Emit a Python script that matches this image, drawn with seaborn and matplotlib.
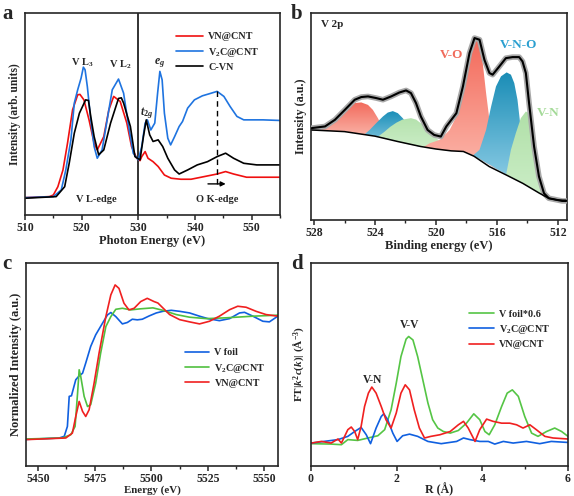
import numpy as np
import matplotlib
matplotlib.use("Agg")
import matplotlib.pyplot as plt
from matplotlib.patches import Polygon
from matplotlib.ticker import MultipleLocator, NullLocator
import seaborn as sns

# ---------------- data: panel a (XAS, V L-edge / O K-edge) ----------------
a_red_x = [510, 514.3, 515, 515.8, 516.7, 517.5, 518.4, 519.3, 519.7, 520.4, 521.3, 522.2, 522.75, 523.9,
           524.8, 525.65, 526.8, 527.97, 528.8, 529.7, 530.3, 530.6, 531.2, 531.7, 532.6, 533.5, 534.6,
           535.8, 537.5, 539.3, 541.6, 543.9, 545.4, 546.8, 549.1, 555]
a_red_y = [8.6, 9.1, 9.9, 14.0, 22.3, 35.5, 52.1, 59.5, 59.7, 57.0, 47.1, 35.5, 32.2, 38.8,
           52.1, 58.7, 56.2, 45.5, 33.9, 28.1, 26.9, 28.9, 31.4, 28.1, 26.4, 24.0, 19.8,
           18.2, 17.7, 17.7, 19.0, 20.3, 21.5, 20.3, 18.7, 18.7]
a_blue_x = [510, 515, 516.4, 517.2, 518.1, 518.7, 519.3, 519.9, 520.3, 520.6, 521, 521.6, 522.2, 522.75,
            523.6, 524.5, 525.4, 526.5, 527.4, 528.3, 529.1, 530, 530.6, 531.2, 531.6, 532.2, 532.9,
            533.4, 533.8, 534.2, 534.6, 535.2, 535.7, 536.4, 537.2, 537.8, 538.7, 539.9, 541.3, 542.5,
            543.9, 545.1, 546.2, 547.4, 548.6, 550.3, 552, 555]
a_blue_y = [8.6, 9.1, 12.4, 22.3, 37.2, 55.4, 62.0, 67.8, 73.2, 71.9, 63.6, 47.1, 33.9, 28.1,
            32.2, 47.1, 62.0, 67.3, 60.3, 43.8, 30.6, 27.3, 33.9, 45.5, 47.1, 42.1, 45.5,
            60.3, 71.1, 66.9, 50.4, 38.0, 34.7, 38.8, 43.8, 46.3, 52.9, 57.0, 59.0, 60.0,
            61.2, 58.7, 53.7, 48.8, 47.1, 47.1, 47.1, 46.8]
a_blk_x = [510, 515.5, 517, 517.8, 518.7, 519.6, 520.7, 521.2, 521.6, 522.2, 523, 523.9, 525.1, 526.5,
           527, 527.4, 528.6, 529.4, 530.3, 530.9, 531.4, 532, 532.6, 533.5, 534.3, 535.2, 536.4,
           537.2, 538.7, 540.4, 542.2, 543.9, 545.4, 546.8, 548.6, 550.9, 555]
a_blk_y = [8.3, 9.1, 14.0, 25.6, 40.5, 50.4, 57.0, 56.7, 48.8, 38.8, 29.8, 32.2, 45.5, 57.7,
           58.0, 55.4, 43.8, 28.9, 27.3, 38.8, 47.1, 39.7, 36.4, 37.2, 33.9, 28.1, 22.3,
           20.3, 22.3, 24.8, 26.4, 28.9, 30.6, 28.1, 25.6, 24.8, 24.8]
a_labels = ["VN@CNT", r"V$_2$C@CNT", "C-VN"]

# ---------------- data: panel b (XPS V 2p) ----------------
b_env_x = [528.15, 527.28, 526.63, 525.98, 525.33, 524.9, 524.46, 523.92, 523.48, 522.94, 522.4, 521.96,
           521.64, 521.31, 520.99, 520.55, 520.12, 519.68, 519.32, 518.66, 518.23, 517.8, 517.47, 517.14,
           516.82, 516.49, 516.28, 515.84, 515.41, 514.97, 514.54, 514.32, 514.1, 513.89, 513.56, 513.24,
           512.91, 512.59, 511.72, 511.45]
b_env_y = [44.4, 45.2, 48.4, 53.2, 58.1, 59.4, 59.7, 58.9, 58.1, 59.7, 61.6, 62.6,
           61.3, 56.5, 50.0, 43.5, 41.1, 40.3, 45.2, 51.6, 64.5, 80.6, 87.9, 87.1,
           77.4, 71.0, 70.2, 74.2, 78.2, 78.7, 78.7, 76.6, 71.0, 56.5, 35.5, 21.0,
           12.9, 10.5, 9.2, 9.2]
b_bg_x = [528.2, 526.0, 524.0, 522.5, 521.0, 520.0, 519.0, 518.2, 517.5, 516.5, 515.4, 514.3, 513.2,
          512.6, 512.0, 511.45]
b_bg_y = [43.5, 42.7, 40.5, 37.9, 35.5, 34.3, 33.4, 33.1, 30.8, 25.8, 21.8, 17.7, 12.9,
          10.5, 9.6, 9.5]
# components: x, top, bottom (background)
b_r1_x = [527.7, 527.5, 526.85, 526.2, 525.76, 525.33, 524.9, 524.46, 524.14, 523.81, 523.48, 523.27, 523.1]
b_r1_t = [43.4, 43.8, 46.8, 50.8, 54.5, 56.5, 56.8, 55.6, 53.2, 49.2, 44.4, 41.5, 39.2]
b_r1_b = [43.4, 43.3, 43.0, 42.8, 42.6, 42.0, 41.6, 41.2, 40.8, 40.3, 39.8, 39.4, 39.2]
b_b1_x = [524.7, 524.35, 523.92, 523.48, 523.16, 522.83, 522.5, 522.18, 521.85, 521.5, 521.1, 520.9]
b_b1_t = [41.3, 43.5, 46.8, 50.0, 51.9, 52.6, 51.6, 49.2, 46.0, 42.0, 37.5, 35.3]
b_b1_b = [41.3, 41.0, 40.5, 39.8, 39.3, 38.7, 37.9, 37.3, 36.7, 36.2, 35.4, 35.3]
b_g1_x = [523.8, 523.4, 523.0, 522.6, 522.2, 521.64, 521.3, 521.0, 520.6, 520.3, 519.9, 519.5, 519.0, 518.6]
b_g1_t = [40.3, 42.5, 45.0, 47.0, 48.5, 49.2, 48.5, 46.8, 44.5, 42.0, 39.0, 36.5, 34.5, 33.3]
b_g1_b = [40.3, 39.7, 39.0, 38.1, 37.3, 36.3, 35.9, 35.5, 35.0, 34.6, 34.1, 33.7, 33.4, 33.3]
b_r2_x = [520.8, 520.4, 519.75, 519.1, 518.66, 518.23, 517.9, 517.58, 517.36, 517.14, 516.93, 516.71,
          516.49, 516.28, 516.06, 515.8]
b_r2_t = [35.3, 37.1, 38.7, 43.5, 50.0, 62.9, 75.8, 84.7, 87.1, 85.5, 75.8, 61.3, 48.4, 37.1, 30.0, 24.0]
b_r2_b = [35.3, 34.7, 34.0, 33.4, 33.3, 33.1, 32.2, 31.0, 30.4, 29.6, 28.6, 27.6, 26.6, 25.6, 24.8, 24.0]
b_b2_x = [517.6, 517.14, 516.71, 516.38, 516.06, 515.73, 515.36, 515.08, 514.86, 514.65, 514.5, 514.32,
          514.1, 513.9, 513.7]
b_b2_t = [31.0, 33.9, 43.5, 54.8, 64.5, 69.4, 71.3, 70.2, 66.1, 58.1, 48.4, 35.5, 25.8, 18.5, 15.2]
b_b2_b = [31.0, 29.6, 27.6, 26.3, 24.8, 23.5, 22.0, 20.8, 19.9, 19.0, 18.4, 17.7, 16.8, 16.0, 15.2]
b_g2_x = [515.4, 515.08, 514.76, 514.43, 514.1, 513.89, 513.67, 513.45, 513.24, 513.02, 512.7, 512.3]
b_g2_t = [21.8, 33.9, 41.9, 49.2, 52.4, 51.6, 45.2, 33.9, 22.6, 14.5, 10.9, 10.0]
b_g2_b = [21.8, 20.8, 19.5, 18.2, 16.8, 15.9, 14.9, 14.0, 13.1, 12.2, 10.9, 10.0]

# ---------------- data: panel c (XANES) ----------------
c_vf_x = [5444.6, 5459.3, 5461.5, 5462.9, 5463.7, 5464.7, 5466.6, 5468.1, 5469.6, 5471.0, 5473.2, 5475.4,
          5478.4, 5480.6, 5482.1, 5484.3, 5487.2, 5489.4, 5491.6, 5493.8, 5496.0, 5499.0, 5502.2, 5505.1,
          5508.8, 5512.5, 5516.9, 5521.3, 5525.0, 5530.1, 5534.6, 5539.0, 5541.2, 5544.9, 5549.3, 5552.2,
          5555.9]
c_vf_y = [13.1, 13.8, 14.6, 19.5, 34.3, 34.6, 42.5, 44.4, 45.7, 50.7, 58.9, 64.6,
          70.3, 74.4, 75.6, 73.6, 70.0, 70.7, 72.3, 72.0, 72.3, 73.9, 75.4, 76.2,
          76.7, 76.2, 75.4, 73.8, 72.6, 71.6, 72.6, 75.4, 75.7, 73.8, 71.3, 71.0, 73.8]
c_v2c_x = [5444.6, 5460.7, 5464.4, 5466.3, 5467.4, 5468.1, 5468.8, 5470.3, 5471.8, 5473.2, 5475.4, 5477.6,
           5479.9, 5482.1, 5484.3, 5487.2, 5490.9, 5494.9, 5500.7, 5505.1, 5511.0, 5516.9, 5524.3, 5533.1,
           5544.9, 5555.9]
c_v2c_y = [13.3, 13.8, 15.4, 19.5, 35.9, 47.4, 44.1, 34.3, 29.3, 30.2, 40.8, 55.6,
           68.7, 73.6, 77.2, 77.7, 76.9, 77.4, 77.9, 76.7, 74.6, 73.3, 72.6, 73.0, 73.8, 74.3]
c_vn_x = [5444.6, 5462.2, 5465.1, 5466.6, 5468.1, 5469.6, 5471.0, 5472.5, 5474.7, 5476.9, 5479.9, 5482.1,
          5484.0, 5485.7, 5487.9, 5490.1, 5492.4, 5495.3, 5498.2, 5501.2, 5502.9, 5508.1, 5512.5, 5516.9,
          5521.3, 5525.7, 5530.1, 5534.6, 5538.2, 5541.9, 5546.3, 5550.7, 5555.9]
c_vn_y = [13.0, 13.8, 16.2, 24.4, 31.8, 26.9, 24.4, 27.7, 40.8, 55.6, 73.6, 84.3,
          89.2, 87.5, 80.2, 76.9, 77.7, 81.0, 82.6, 81.0, 80.3, 74.6, 72.1, 71.0,
          70.0, 71.3, 73.8, 77.0, 78.7, 78.2, 76.2, 74.6, 73.8]
c_labels = ["V foil", r"V$_2$C@CNT", "VN@CNT"]

# ---------------- data: panel d (FT-EXAFS) ----------------
d_vf_x = [0.01, 0.47, 0.71, 0.86, 1.09, 1.33, 1.56, 1.72, 1.87, 1.99, 2.10, 2.22, 2.28, 2.38, 2.49, 2.61,
          2.73, 2.84, 2.96, 3.09, 3.25, 3.44, 3.63, 3.80, 3.94, 4.06, 4.16, 4.29, 4.45, 4.58, 4.70, 4.84,
          4.99, 5.15, 5.30, 5.50, 5.69, 5.85, 6.00]
d_vf_y = [11.0, 10.8, 10.5, 13.0, 12.6, 13.8, 14.9, 17.9, 27.7, 40.8, 53.9, 62.5, 63.8, 62.1, 53.9, 42.5,
          31.0, 22.8, 18.7, 17.0, 16.2, 17.5, 21.1, 25.7, 22.8, 17.0, 15.4, 20.3, 29.3, 35.9, 37.5, 34.3,
          24.4, 16.2, 14.6, 17.0, 18.7, 17.0, 14.6]
d_v2c_x = [0.01, 0.63, 0.86, 1.02, 1.17, 1.29, 1.39, 1.52, 1.64, 1.70, 1.79, 1.91, 2.01, 2.14, 2.30, 2.49,
           2.73, 3.04, 3.40, 3.56, 3.71, 3.94, 4.14, 4.29, 4.49, 4.72, 5.03, 5.34, 5.61, 6.00]
d_v2c_y = [11.3, 13.0, 14.6, 17.0, 19.0, 15.4, 11.0, 18.7, 24.4, 25.7, 22.8, 16.2, 12.1, 14.9, 15.7, 14.6,
           12.1, 11.0, 12.1, 13.8, 13.0, 12.1, 12.1, 10.8, 12.1, 11.3, 12.1, 11.0, 12.1, 11.6]
d_vn_x = [0.01, 0.24, 0.47, 0.63, 0.71, 0.86, 0.94, 1.02, 1.09, 1.17, 1.25, 1.34, 1.42, 1.52, 1.64, 1.75,
          1.87, 1.99, 2.10, 2.20, 2.30, 2.41, 2.53, 2.65, 2.80, 3.01, 3.25, 3.44, 3.56, 3.67, 3.83, 3.94,
          4.10, 4.25, 4.45, 4.64, 4.80, 4.95, 5.11, 5.26, 5.46, 5.65, 6.00]
d_vn_y = [11.3, 12.1, 11.3, 13.3, 11.3, 17.9, 19.2, 17.0, 13.0, 19.5, 29.3, 35.9, 38.9, 35.9, 29.3, 22.8,
          18.7, 26.1, 35.9, 40.0, 37.5, 27.7, 18.7, 13.8, 14.6, 15.4, 17.0, 20.3, 22.0, 18.7, 12.1, 17.9,
          23.1, 22.0, 21.1, 21.1, 20.3, 18.7, 20.3, 17.9, 14.6, 13.8, 13.3]
d_labels = ["V foil*0.6", r"V$_2$C@CNT", "VN@CNT"]

# ---------------- style ----------------
sns.set_style("ticks")
plt.rcParams["font.family"] = ["Liberation Serif", "DejaVu Serif"]
plt.rcParams["font.weight"] = "bold"
plt.rcParams["axes.labelweight"] = "bold"
plt.rcParams["mathtext.fontset"] = "custom"
plt.rcParams["mathtext.rm"] = "Liberation Serif:bold"
plt.rcParams["mathtext.bf"] = "Liberation Serif:bold"
plt.rcParams["mathtext.it"] = "Liberation Serif:italic:bold"
plt.rcParams["axes.linewidth"] = 1.2
plt.rcParams["xtick.major.width"] = 1.1
plt.rcParams["xtick.minor.width"] = 1.0
plt.rcParams["xtick.major.size"] = 3.5
plt.rcParams["xtick.minor.size"] = 2.0

W, H = 574, 496
fig = plt.figure(figsize=(W / 100, H / 100), dpi=100)

def box(l, t, r, b):
    return [l / W, 1 - b / H, (r - l) / W, (b - t) / H]

axa = fig.add_axes(box(25, 13, 280, 215))
axb = fig.add_axes(box(311, 13, 567, 220))
axc = fig.add_axes(box(26, 263, 278, 466))
axd = fig.add_axes(box(311, 263, 568, 466))

TF = 8.5

def line(ax, x, y, color, label=None, lw=1.2, z=2):
    sns.lineplot(x=x, y=y, ax=ax, color=color, lw=lw, sort=False, estimator=None,
                 label=label, legend=False, zorder=z)

def finish(ax, xlabel, ylabel, xs, ys, lp=1):
    ax.set_xlabel(xlabel, fontsize=xs, labelpad=lp)
    ax.set_ylabel(ylabel, fontsize=ys, labelpad=3)
    ax.yaxis.set_major_locator(NullLocator())
    ax.tick_params(axis="x", labelsize=TF, pad=1.5, direction="out")
    ax.set_ylim(0, 100)

LEG = dict(loc="upper left", frameon=False, fontsize=7.3, handlelength=2.4,
           labelspacing=0.42, handletextpad=0.5, borderaxespad=0)

# ---------------- panel a ----------------
line(axa, a_red_x, a_red_y, "#f01010", a_labels[0])
line(axa, a_blue_x, a_blue_y, "#1f74e0", a_labels[1])
line(axa, a_blk_x, a_blk_y, "black", a_labels[2])
axa.axvline(530.0, color="#222222", lw=1.3, zorder=1)
axa.plot([543.9, 543.9], [15.5, 62.5], ls=(0, (4, 3)), color="black", lw=1.0)
axa.annotate("", xy=(545.9, 15.4), xytext=(541.8, 15.4),
             arrowprops=dict(arrowstyle="-|>", color="black", lw=1.0, mutation_scale=7))
axa.set_xlim(510, 555)
axa.xaxis.set_major_locator(MultipleLocator(10))
axa.xaxis.set_minor_locator(MultipleLocator(5))
finish(axa, "Photon Energy (eV)", "Intensity (arb. units)", 9, 8.3)
axa.text(520.1, 75.5, r"V L$_3$", fontsize=7.5, ha="center", va="center")
axa.text(526.8, 74.4, r"V L$_2$", fontsize=7.5, ha="center", va="center")
axa.text(533.8, 75.0, r"$\mathit{e}_{\mathit{g}}$", fontsize=8.5, ha="center", va="center")
axa.text(531.4, 50.5, r"$\mathit{t}_{\mathit{2g}}$", fontsize=8.5, ha="center", va="center")
axa.text(522.5, 7.8, "V L-edge", fontsize=7.5, ha="center", va="center")
axa.text(543.9, 7.8, "O K-edge", fontsize=7.5, ha="center", va="center")
axa.legend(bbox_to_anchor=(0.575, 0.925), **dict(LEG, handlelength=2.7))

# ---------------- panel b ----------------
def grad_fill(ax, x, top, bot, c_top, c_bot, z):
    x = np.asarray(x, float); top = np.asarray(top, float); bot = np.asarray(bot, float)
    verts = np.column_stack([np.r_[x, x[::-1]], np.r_[top, bot[::-1]]])
    patch = Polygon(verts, closed=True, facecolor="none", edgecolor="none")
    ax.add_patch(patch)
    ct = np.array(matplotlib.colors.to_rgb(c_top)); cb = np.array(matplotlib.colors.to_rgb(c_bot))
    f = np.linspace(0, 1, 128)[:, None]
    img = (cb[None, :] * (1 - f) + ct[None, :] * f)[:, None, :]
    im = ax.imshow(img, extent=[x.min(), x.max(), bot.min(), top.max()], origin="lower",
                   aspect="auto", zorder=z, interpolation="bilinear")
    im.set_clip_path(patch)

grad_fill(axb, b_r1_x, b_r1_t, b_r1_b, "#f26a5c", "#fbb9ad", 1.0)
grad_fill(axb, b_b1_x, b_b1_t, b_b1_b, "#1b8fb8", "#8ccbe3", 1.1)
grad_fill(axb, b_g1_x, b_g1_t, b_g1_b, "#b5e2ae", "#cdeec8", 1.2)
grad_fill(axb, b_r2_x, b_r2_t, b_r2_b, "#f36a5b", "#fcb6aa", 1.3)
grad_fill(axb, b_b2_x, b_b2_t, b_b2_b, "#1a8db6", "#93d0e8", 1.4)
grad_fill(axb, b_g2_x, b_g2_t, b_g2_b, "#b0e0a8", "#cdeec8", 1.5)
line(axb, b_env_x, b_env_y, "#a8a8a8", lw=4.0, z=3)
line(axb, b_env_x, b_env_y, "black", lw=1.5, z=4)
line(axb, b_bg_x, b_bg_y, "black", lw=1.1, z=4)
axb.set_xlim(528.2, 511.4)
axb.xaxis.set_major_locator(MultipleLocator(4))
axb.xaxis.set_minor_locator(MultipleLocator(2))
finish(axb, "Binding energy (eV)", "Intensity (a.u.)", 9, 8.7)
axb.text(527.55, 94.4, "V 2p", fontsize=8, ha="left", va="center")
axb.text(518.95, 79.8, "V-O", fontsize=9.5, ha="center", va="center", color="#f06a5a")
axb.text(514.6, 84.7, "V-N-O", fontsize=9.5, ha="center", va="center", color="#2a9fd0")
axb.text(512.65, 51.6, "V-N", fontsize=9.5, ha="center", va="center", color="#a4da98")

# ---------------- panel c ----------------
line(axc, c_vf_x, c_vf_y, "#1060e0", c_labels[0])
line(axc, c_v2c_x, c_v2c_y, "#50c040", c_labels[1])
line(axc, c_vn_x, c_vn_y, "#f02020", c_labels[2])
axc.set_xlim(5444.6, 5556)
axc.xaxis.set_major_locator(MultipleLocator(25))
axc.xaxis.set_minor_locator(MultipleLocator(12.5))
finish(axc, "Energy (eV)", "Normalized Intensity (a.u.)", 7.8, 9, lp=0)
axc.legend(bbox_to_anchor=(0.615, 0.60), **LEG)

# ---------------- panel d ----------------
line(axd, d_vf_x, d_vf_y, "#55c545", d_labels[0])
line(axd, d_v2c_x, d_v2c_y, "#1060e0", d_labels[1])
line(axd, d_vn_x, d_vn_y, "#f02020", d_labels[2])
axd.set_xlim(0, 6)
axd.xaxis.set_major_locator(MultipleLocator(2))
axd.xaxis.set_minor_locator(MultipleLocator(1))
finish(axd, "R (Å)", r"FT|$\mathit{k}^{2}\mathit{c}(\mathit{k})$| (Å$^{-3}$)", 8.6, 8, lp=-1.5)
axd.text(1.44, 42.6, "V-N", fontsize=8.3, ha="center", va="center")
axd.text(2.29, 69.7, "V-V", fontsize=8.3, ha="center", va="center")
axd.legend(bbox_to_anchor=(0.60, 0.79), **LEG)

# panel letters
for lab, (px, py) in zip("abcd", [(2, 14), (291, 14), (2, 264), (291, 264)]):
    fig.text(px / W, 1 - py / H, lab, fontsize=15, fontweight="bold", ha="left", va="center")

fig.savefig("out.png", dpi=100)
